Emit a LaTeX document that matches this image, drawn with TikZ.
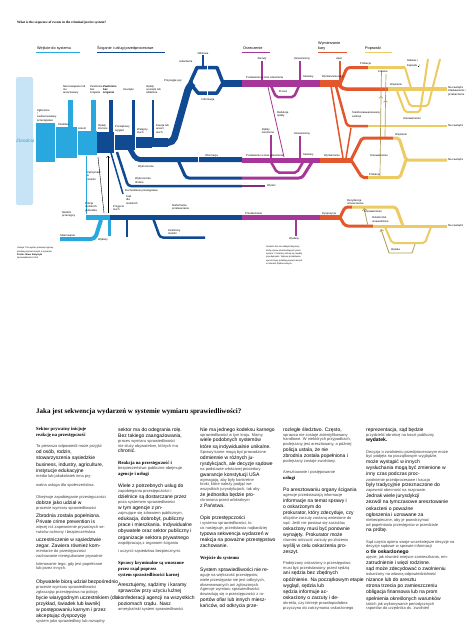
\documentclass[tikz,border=0pt]{standalone}
\usepackage{fontspec}
\setmainfont{Liberation Sans}
\newfontfamily\tnr{Liberation Serif}
\definecolor{crime}{RGB}{198,228,246}
\definecolor{entry}{RGB}{41,168,224}
\definecolor{prosec}{RGB}{16,74,146}
\definecolor{adjud}{RGB}{166,54,152}
\definecolor{sentenc}{RGB}{226,88,44}
\definecolor{correct}{RGB}{235,203,98}
\definecolor{parole}{RGB}{176,160,92}

\newcommand{\lnbig}[1]{{\fontsize{5}{5}\selectfont\rule[-1.4pt]{0pt}{6.2pt}#1}}
\newcommand{\lnsmall}[1]{{\fontsize{4}{4}\selectfont\color{black!75}\rule[-1pt]{0pt}{4.7pt}#1}}
\newcommand{\lnhead}[1]{{\tnr\bfseries\fontsize{4.7}{4}\selectfont\rule[-1.3pt]{0pt}{6pt}#1}}

\tikzset{
  lab/.style={font=\fontsize{2.7}{3.4}\selectfont, align=left, inner sep=0pt},
  hd/.style={font=\fontsize{3.8}{4.4}\selectfont, align=left, inner sep=0pt},
  note/.style={font=\fontsize{2.2}{3.3}\selectfont, align=left, inner sep=0pt},
  textcol/.style={anchor=north west, align=left, inner sep=0pt,
    font={\baselineskip=0pt\lineskip=0pt\lineskiplimit=0pt}},
}

\begin{document}
\begin{tikzpicture}[x=1pt,y=-1pt]
	\useasboundingbox (0,0) rectangle (474,632);
	\fill[white] (0,0) rectangle (474,632);

	% title and stage headers
	\node[anchor=west, inner sep=0pt, font=\tnr\bfseries\fontsize{3.4}{4}\selectfont] (title) at (17,23) {What is the sequence of events in the criminal justice system?};
	\node[hd, anchor=south west] (hentry) at (37,50) {Wejście do systemu};
	\node[hd, anchor=south west] (hpros) at (97,50) {Ściganie i usługi przedprocesowe};
	\node[hd, anchor=south west] (hadj) at (243,50) {Orzeczenie};
	\node[hd, anchor=south west] (hsent) at (318,50) {Wymierzanie\\kary};
	\node[hd, anchor=south west] (hcorr) at (365,50) {Poprawki};
	\draw[entry, line width=1.5] (36,52.5) -- (80,52.5);
	\draw[prosec, line width=1.5] (97,52.5) -- (165,52.5);
	\draw[adjud, line width=1.5] (242,52.5) -- (270,52.5);
	\draw[sentenc, line width=1.5] (318,52.5) -- (347,52.5);
	\draw[correct, line width=1.5] (365,52.5) -- (392,52.5);

	% entry into the system
	\fill[crime, rounded corners=2] (16,77) rectangle (33,205);
	\node[anchor=west, inner sep=0pt, text=entry, font=\fontsize{4.6}{5}\selectfont] (crime) at (16,141) {Zbrodnia};
	\fill[entry] (36,123) rectangle (55,162);
	\fill[entry] (55,127) rectangle (77,158);
	\fill[entry] (77,131) rectangle (97,155);
	\fill[entry] (68,100) rectangle (73,127);
	\fill[entry] (91,100) rectangle (96,131);
	\draw[white, line width=0.5] (55,126) -- (55,159) (77,130) -- (77,156);
	\node[lab, anchor=south west] (reported) at (37,122) {Zgłoszone\\i\\zaobserwowany\\przestępstwo};
	\node[lab, anchor=west] (invest) at (58,124) {Śledztwo};
	\node[lab, anchor=west] (arrest) at (78,128.5) {Areszt};
	\node[lab, anchor=north west] (unsolved) at (63,85) {Nierozwiązane lub\\nie\\aresztowany};
	\node[lab, anchor=north west] (relnopros) at (90,85) {Zwolnione\\bez\\ścigania};

	% prosecution and pretrial services
	\fill[prosec] (97,132) rectangle (114,153);
	\fill[prosec] (114,135) rectangle (135,150);
	\fill[prosec] (135,137) rectangle (152,148);
	\fill[prosec] (152,138) rectangle (168,147);
	\fill[prosec] (109,100) rectangle (113,132);
	\fill[prosec] (131.5,100) rectangle (134.5,135);
	\fill[prosec] (151.5,100) rectangle (154,138);
	\draw[white, line width=0.5] (114,134) -- (114,154) (135,136) -- (135,151);
	\node[lab, anchor=north west, font=\bfseries\fontsize{2.7}{3.4}\selectfont] (relbook) at (103,85) {Zwolnione\\bez\\ścigania};
	\node[lab, anchor=north west] (dropped1) at (123,88) {Usunięte};
	\node[lab, anchor=north west] (dropped2) at (146,85) {Opłaty\\usunięte lub\\oddalone};
	\node[lab, anchor=west] (charges) at (98,127) {Opłaty\\złożone};
	\node[lab, anchor=west] (initial) at (115,129) {Początkowy\\wygląd};
	\node[lab, anchor=west] (prelim) at (137,131) {Wstępny\\słuch};
	\node[lab, anchor=west] (bail) at (156,129) {Kaucja lub\\areszt\\słuch};
	% grand jury
	\draw[prosec, line width=7, rounded corners=5] (160,142.5) -- (173,142.5) -- (189,86) -- (193,83);
	\draw[prosec, line width=3.5, line join=round] (190,83) -- (197,67.5) -- (217,67.5) -- (223,83);
	\draw[prosec, line width=3.5, line join=round] (190,83) -- (198,93) -- (217,93) -- (223,83);
	\draw[white, line width=0.6] (207,64) -- (207,71) (207,89) -- (207,97);
	\draw[prosec, line width=1.5] (203,55) -- (203,67);
	\draw[prosec, line width=7] (222,83) -- (242,83);
	\node[lab, anchor=west] (grandjury) at (164,80.5) {Przysięgłe jury};
	\node[lab, anchor=south] (refusal) at (203,55) {Odmowa};
	\node[lab, anchor=west] (indict) at (179,62) {oskarżenia};
	\node[lab] (info1) at (208,100) {Informacja};
	% misdemeanors and petty offenses
	\draw[prosec, line width=5, rounded corners=4] (130,149) -- (136,159.5) -- (242,159.5);
	\draw[white, line width=0.6] (198,156) -- (198,163);
	\draw[prosec, line width=3, rounded corners=3] (178,160) -- (186,178) -- (242,178);
	\draw[prosec, line width=2.5, rounded corners=3] (117,152) -- (128,186) -- (242,186);
	\draw[prosec, line width=1.5] (111,153) -- (123,194);
	\node[lab, anchor=south west] (info2) at (205,157) {Informacja};
	\node[lab, anchor=west] (misd) at (138,167) {Wykroczenia};
	\node[lab, anchor=west] (petty) at (135,180.5) {Wykroczenia\\drobne};
	\node[lab, anchor=west] (pettyinv) at (125,191) {Dochodzenie przestępstwa};

	% juveniles
	\draw[entry, line width=1] (86,156) -- (86,214);
	\draw[entry, line width=5] (86,217.5) -- (110,217.5);
	\draw[entry, line width=4, rounded corners=4] (60,239) -- (95,239) -- (101,220);
	\draw[entry, line width=2.5] (109.5,220) -- (109.5,236);
	\draw[black, line width=0.4] (98,157) -- (104,213);
	\draw[black, line width=0.4, ->] (108,213) -- (108,156);
	\draw[prosec, line width=5] (110,217.5) -- (242,217.5);
	\draw[prosec, line width=2] (127,220) -- (127,237);
	\draw[prosec, line width=2.5, rounded corners=3] (153,218) -- (160,237.5) -- (205,237.5);
	\node[lab, anchor=west] (warned) at (87,176) {Zatrzymani\\\&\\nieletni};
	\node[lab, anchor=west] (policejuv) at (85,207) {Policja\\nieletnich\\jednostka};
	\node[lab, anchor=west] (juvoff) at (62,214.5) {Nieletni\\przestępcy};
	\node[lab, anchor=south west] (referral) at (60,236.5) {Skierowania};
	\node[lab, anchor=north east] (released1) at (108,238) {Wydany};
	\node[lab, anchor=west] (intake) at (113,208) {Przyjęcie\\słuch};
	\node[lab, anchor=west] (juvcourt) at (126,200) {Sąd\\dla\\nieletnich};
	\node[lab, anchor=west] (informal) at (172,207.5) {Nieformalne\\przetwarzanie};
	\node[lab, anchor=west] (released2) at (168,232) {Zwolniony\\nieletni};

	% adjudication
	\draw[adjud, line width=7] (242,83) -- (320,83);
	\draw[adjud, line width=2] (262,61) -- (262,80);
	\draw[adjud, line width=2] (300,61) -- (300,80);
	\draw[adjud, line width=2.5, rounded corners=2] (271,86) -- (276,97) -- (294,97) -- (299,86);
	\draw[adjud, line width=0.8] (268,87) -- (284,157);
	\draw[adjud, line width=5] (242,160) -- (320,160);
	\draw[adjud, line width=2] (271,135) -- (271,157.5);
	\draw[adjud, line width=2] (300,136) -- (300,157.5);
	\draw[adjud, line width=2.5, rounded corners=2] (271,162) -- (277,172.5) -- (297,172.5) -- (303,162);
	\draw[adjud, line width=3, rounded corners=3] (242,178) -- (302,178) -- (312,162);
	\draw[adjud!80!black, line width=2.5] (242,186) -- (265,186);
	\draw[adjud, line width=5] (242,217.5) -- (320,217.5);
	\draw[adjud, line width=2.5] (296,219) -- (296,236);
	\node[lab, anchor=south west] (arraign1) at (246,78.5) {Postawienie w stan oskarżenia};
	\node[lab, anchor=south] (dism1) at (262,60) {Zarzuty};
	\node[lab, anchor=south] (acq1) at (302,60) {Uniewinniony};
	\node[lab] (trial1) at (283,92) {Proces};
	\node[lab, anchor=west] (reduct) at (277,114) {Redukcja\\opłaty};
	\node[lab, anchor=south west] (conv1) at (303,78.5) {Skazany};
	\node[lab, anchor=south west] (arraign2) at (246,156.5) {Postawienie w stan oskarżenia};
	\node[lab, anchor=south] (dism2) at (268,134) {Opłaty\\zwolnione};
	\node[lab, anchor=south] (acq2) at (302,135) {Uniewinniony};
	\node[lab, anchor=south west] (conv2) at (303,156.5) {Skazany};
	\node[lab, anchor=west] (petsent) at (267,186) {Wyroki};
	\node[lab, anchor=south west] (adjhear) at (245,214.5) {Przesłuchanie};
	\node[lab, anchor=north] (released3) at (294,237.5) {Wydany};

	% sentencing and corrections, felonies
	\draw[sentenc, line width=7] (320,83) -- (342,83);
	\draw[sentenc, line width=2] (340,61) -- (340,80);
	\draw[sentenc, line width=3, rounded corners=3] (341,82) -- (347,67.5) -- (368,67.5);
	\draw[correct, line width=3] (368,67.5) -- (405,67.5);
	\draw[sentenc, line width=3.5, rounded corners=3] (338,84) -- (343,89) -- (388,89);
	\draw[correct, line width=3.5] (388,89) -- (447,89);
	\draw[sentenc, line width=2.5, rounded corners=3] (336,86) -- (347,126) -- (368,126);
	\draw[correct, line width=2.5] (368,126) -- (447,126);
	\draw[sentenc, line width=1.5] (331,86) -- (343,158);
	\draw[sentenc, line width=1.5] (346,158) -- (351,128);
	\draw[correct, line width=2, rounded corners=2] (405,67.5) -- (411,88);
	\draw[correct, line width=2, rounded corners=2] (397,91) -- (405,112) -- (420,112) -- (428,59);
	\draw[correct, line width=2, rounded corners=2] (404,91) -- (410,106) -- (428,106) -- (440,59);
	\draw[parole, line width=0.7, ->] (380,176) -- (380.5,136);
	\draw[parole, line width=0.7, ->] (380.5,136) -- (381,96);
	\draw[parole, line width=0.7] (381,96) -- (381.5,71);
	\draw[parole, line width=0.7, ->] (385,137) -- (385.5,100);
	\draw[parole, line width=0.7] (385.5,100) -- (386,74);
	\node[lab, anchor=south west] (sent1) at (322,78.5) {Wymierzanie kary};
	\node[lab, anchor=south] (appeal) at (339,60) {Apel};
	\node[lab, anchor=south west] (prob1) at (360,65) {Probacja};
	\node[lab, anchor=north west] (revoc1) at (378,70.5) {Cofanie};
	\node[lab, anchor=south west] (prison) at (390,86) {Więzienie};
	\node[lab, anchor=west] (habeas) at (407,61) {Habeas \textbullet};
	\node[lab, anchor=west] (corpus) at (407,66) {Kapsuła \rule{1pt}{1pt}\,\textbullet};
	\node[lab, anchor=west] (revoc2) at (403,119) {Unieważnienie};
	\node[lab, anchor=north west] (out1) at (448,86.5) {Na zewnątrz\\Ułaskawienie i\\przebaczenie};
	\node[lab, anchor=west] (intermed) at (352,114.5) {Średniozaawansowany\\sankcje};
	\node[lab, anchor=west] (out2) at (448,126) {Na zewnątrz};

	% sentencing and corrections, misdemeanors
	\draw[sentenc, line width=5] (320,160) -- (352,160);
	\draw[sentenc, line width=3, rounded corners=2] (351,160) -- (362,138) -- (393,138);
	\draw[correct, line width=3, rounded corners=2] (393,138) -- (399,138) -- (406,160) -- (447,160);
	\draw[sentenc, line width=3, rounded corners=2] (351,160) -- (362,177.5) -- (368,177.5);
	\draw[correct, line width=3, rounded corners=2] (368,177.5) -- (400,177.5) -- (406,160);
	\node[lab, anchor=south west] (sent2) at (324,157) {Wymierzanie};
	\node[lab, anchor=south west] (jail) at (395,136) {Więzienie};
	\node[lab, anchor=west] (revoc3) at (370,156) {Unieważnienie};
	\node[lab, anchor=south west] (prob2) at (369,176) {Probacja};
	\node[lab, anchor=west] (out3) at (448,160) {Na zewnątrz};

	% sentencing and corrections, juveniles
	\draw[sentenc, line width=5] (320,217.5) -- (342,217.5);
	\draw[sentenc, line width=3, rounded corners=3] (340,217.5) -- (345,207) -- (352,207);
	\draw[correct, line width=3, rounded corners=3] (352,207) -- (396,207) -- (403,226);
	\draw[sentenc, line width=3, rounded corners=3] (340,217.5) -- (345,226) -- (373,226);
	\draw[correct, line width=3] (373,226) -- (447,226);
	\draw[correct, line width=2, rounded corners=2] (385,227) -- (392,243) -- (425,243) -- (431,227);
	\draw[parole, line width=0.8, ->] (389,253) -- (381,229);
	\draw[parole, line width=0.8] (389,253) -- (412,253) -- (415,244);
	\draw[parole, line width=0.8, ->] (368,226) -- (364,208);
	\node[lab, anchor=south west] (dispos) at (322,215) {Dyspozycja};
	\node[lab, anchor=south west] (resid) at (347,205) {Rezydencja\\umieszczenie};
	\node[lab, anchor=west] (revoc4) at (364,211.5) {Unieważnienie};
	\node[lab, anchor=west] (revoc5) at (372,219.5) {Ostatecznie\\unieważnione};
	\node[lab, anchor=south west] (aftercare) at (391,251.5) {Opieka};
	\node[lab, anchor=west] (out4) at (448,226) {Na zewnątrz};

	% notes
	\node[note, anchor=north west] (note1) at (17,247) {Uwaga: Ten wykres pokazuje typowy\\przebieg spraw karnych w systemie\\\textbf{Źródło: Biuro Statystyki}\\Sprawiedliwości USA.};
	\node[note, anchor=north west] (note2) at (266,246) {Grubość linii nie oddaje faktycznej\\liczby spraw przechodzących przez\\system. Procedury różnią się między\\jurysdykcjami. Wykres przedstawia\\uproszczony przebieg spraw karnych\\w Stanach Zjednoczonych.};

	% text below the chart
	\node[anchor=west, inner sep=0pt, font=\tnr\bfseries\fontsize{7}{8}\selectfont] (heading) at (36,412) {Jaka jest sekwencja wydarzeń w systemie wymiaru sprawiedliwości?};
	\node[textcol] (col1) at (36,426) {%
\lnhead{Sektor prywatny inicjuje}\\
\lnhead{reakcję na przestępczość}\\[6pt]
\lnsmall{Ta pierwsza odpowiedź może przyjść}\\
\lnbig{od osób, rodzin,}\\
\lnbig{stowarzyszenia sąsiedzkie}\\
\lnbig{business, industry, agriculture,}\\
\lnbig{instytucje edukacyjne}\\
\lnsmall{media lub jakakolwiek inna pry-}\\[4pt]
\lnsmall{watna usługa dla społeczeństwa.}\\[8pt]
\lnsmall{Obejmuje zapobieganie przestępczości}\\
\lnbig{dobrze jako udział w}\\
\lnsmall{procesie wymiaru sprawiedliwości}\\[2pt]
\lnbig{Zbrodnia została popełniona.}\\
\lnbig{Private crime prevention is}\\
\lnsmall{więcej niż zapewnienie prywatnych se-}\\
\lnsmall{rwisów ochrony i bezpieczeństwa}\\[2pt]
\lnbig{uczestniczenie w sąsiedztwie}\\
\lnbig{zegar. Zawiera również kom-}\\
\lnsmall{mentarze do przestępczości}\\
\lnsmall{zachowanie nieregulowane prywatnie}\\[3pt]
\lnsmall{tolerowanie tego, gdy jest popełniane}\\
\lnsmall{lub przez innych.}\\[8pt]
\lnbig{Obywatele biorą udział bezpośrednio}\\
\lnsmall{procesie wymiaru sprawiedliwości}\\
\lnsmall{zgłaszając przestępstwa na policję,}\\
\lnbig{bycie wiarygodnym uczestnikiem (dla}\\
\lnbig{przykład, świadek lub ławnik)}\\
\lnbig{w postępowaniu karnym i przez}\\
\lnbig{akceptując dyspozycję}\\
\lnsmall{system jako sprawiedliwy lub rozsądny}};
	\node[textcol] (col2) at (118,426) {%
\lnbig{sektor ma do odegrania rolę.}\\
\lnbig{Bez takiego zaangażowania,}\\
\lnsmall{proces wymiaru sprawiedliwości}\\
\lnsmall{nie służy obywatelom, których ma}\\
\lnbig{chronić.}\\[6pt]
\lnhead{Reakcja na przestępczość i}\\
\lnsmall{bezpieczeństwo publiczne obejmuje}\\
\lnhead{agencje i usługi}\\[6pt]
\lnbig{Wiele z potrzebnych usług do}\\
\lnsmall{zapobiegania przestępczości i}\\
\lnbig{dzielnice są dostarczane przez}\\
\lnsmall{poza systemem sprawiedliwości}\\
\lnbig{w tym agencje z pn-}\\
\lnsmall{zajmujące się zdrowiem publicznym,}\\
\lnbig{edukacja, dobrobyt, publiczny}\\
\lnbig{prace i mieszkania. Indywidualne}\\
\lnbig{obywatele oraz sektor publiczny i}\\
\lnbig{organizacje sektora prywatnego}\\
\lnsmall{współpracują z organami ścigania}\\[4pt]
\lnsmall{i uczynić sąsiedztwa bezpiecznymi.}\\[6pt]
\lnhead{Sprawy kryminalne są wnoszone}\\
\lnhead{przez rząd poprzez}\\
\lnhead{system sprawiedliwości karnej}\\[4pt]
\lnbig{Aresztujemy, sądzimy i karamy}\\
\lnbig{sprawców przy użyciu luźnej}\\
\lnbig{konfederacji agencji na wszystkich}\\
\lnbig{poziomach rządu. Nasz}\\
\lnsmall{amerykański system sprawiedliwości}};
	\node[textcol] (col3) at (200,426) {%
\lnbig{Nie ma jednego kodeksu karnego}\\
\lnsmall{sprawiedliwości w tym kraju. Mamy}\\
\lnbig{wiele podobnych systemów}\\
\lnbig{które są indywidualnie unikalne.}\\
\lnsmall{Sprawy karne mogą być prowadzone}\\
\lnbig{odmiennie w różnych ju-}\\
\lnbig{rysdykcjach, ale decyzje sądowe}\\
\lnsmall{na podstawie właściwej procedury}\\
\lnbig{gwarancje konstytucji USA}\\
\lnsmall{wymagają, aby były konkretne}\\
\lnsmall{kroki, które należy podjąć we}\\
\lnsmall{wszystkich jurysdykcjach, tak aby}\\
\lnbig{że jednostka będzie pro-}\\
\lnsmall{chroniona przed arbitralnym}\\
\lnbig{z Państwa.}\\[6pt]
\lnbig{Opis przestępczości}\\
\lnsmall{i systemu sprawiedliwości, to}\\
\lnsmall{co następuje, przedstawia najbardziej}\\
\lnbig{typowa sekwencja wydarzeń w}\\
\lnbig{reakcja na poważne przestępstwo}\\
\lnbig{zachowanie.}\\[6pt]
\lnhead{Wejście do systemu}\\[6pt]
\lnbig{System sprawiedliwości nie re-}\\
\lnsmall{aguje na większość przestępstw,}\\
\lnsmall{wiele przestępstw nie jest odkrytych,}\\
\lnsmall{obserwowanych ani zgłoszonych.}\\
\lnsmall{Agencje wymiaru sprawiedliwości}\\
\lnsmall{dowiadują się o przestępczości z ra-}\\
\lnbig{portów ofiar lub innych miesz-}\\
\lnbig{kańców, od odkrycia prze-}};
	\node[textcol] (col4) at (283,426) {%
\lnbig{rozległe śledztwo. Często,}\\
\lnsmall{sprawca nie zostaje zidentyfikowany}\\
\lnsmall{handlowe. W niektórych przypadkach,}\\
\lnsmall{podejrzany jest aresztowany, a później}\\
\lnbig{policja ustala, że nie}\\
\lnbig{zbrodnia została popełniona i}\\
\lnsmall{podejrzany zostaje zwolniony.}\\[6pt]
\lnsmall{Aresztowanie i postępowanie}\\
\lnhead{usługi}\\[6pt]
\lnbig{Po aresztowaniu organy ścigania}\\
\lnsmall{agencje przedstawiają informacje}\\
\lnbig{informacje na temat sprawy i}\\
\lnbig{o oskarżonym do}\\
\lnbig{prokurator, który zdecyduje, czy}\\
\lnsmall{oficjalne zarzuty zostaną wniesione do}\\
\lnsmall{sąd. Jeśli nie postawi się zarzutów,}\\
\lnbig{oskarżony musi być ponownie}\\
\lnbig{wynajęty. Prokurator może}\\
\lnsmall{również odrzucić zarzuty po złożeniu}\\
\lnbig{wyślij w celu oskarżenia pro-}\\
\lnbig{zeszyt.}\\[6pt]
\lnsmall{Podejrzany oskarżony o przestępstwo}\\
\lnsmall{musi być przedstawiony przed sędzią}\\
\lnbig{ani sędzia bez zbędnych}\\
\lnbig{opóźnienie. Na początkowym etapie}\\
\lnbig{wygląd, sędzia lub}\\
\lnbig{sędzia informuje ac-}\\
\lnbig{oskarżony o zarzuty i de-}\\
\lnsmall{określa, czy istnieje prawdopodobna}\\
\lnsmall{przyczyna do zatrzymania oskarżonego}};
	\node[textcol] (col5) at (366,426) {%
\lnbig{reprezentacja, sąd będzie}\\
\lnsmall{przydzielić obrońcę na koszt publiczny}\\
\lnbig{\bfseries wydatek.}\\[6pt]
\lnsmall{Decyzja o zwolnieniu przedprocesowym może}\\
\lnsmall{być podjęta na początkowym wyglądzie,}\\
\lnbig{może wystąpić w innych}\\
\lnbig{wysłuchania mogą być zmienione w}\\
\lnbig{inny czas podczas proc-}\\
\lnsmall{zwolnienie przedprocesowe i kaucja}\\
\lnbig{były tradycyjnie przeznaczone do}\\
\lnsmall{zapewnić obecność na rozprawie.}\\
\lnbig{Jednak wiele jurysdykcji}\\
\lnbig{zezwól na tymczasowe aresztowanie}\\
\lnbig{oskarżeni o poważne}\\
\lnbig{ogłoszenia i uznawane za}\\
\lnsmall{niebezpieczne, aby je powstrzymać}\\
\lnsmall{od popełniania przestępstw w przedziale}\\
\lnbig{na próbę.}\\[6pt]
\lnsmall{Sąd często opiera swoje wcześniejsze decyzje na}\\
\lnsmall{decyzje sądowe w sprawie informacji}\\
\lnbig{\bfseries o tle oskarżonego}\\
\lnsmall{ujęcie, jak również miejsce zamieszkania, em-}\\
\lnbig{zatrudnienie i więzi rodzinne.}\\
\lnbig{sąd może zdecydować o zwolnieniu}\\
\lnsmall{oskarżony na własną odpowiedzialność}\\
\lnbig{nizance lub do aresztu}\\
\lnbig{strona trzecia po zamieszczeniu}\\
\lnbig{obligacja finansowa lub na prom}\\
\lnbig{spełnienia określonych warunków}\\
\lnsmall{takich jak wykonywanie periodycznych}\\
\lnsmall{raportów do urzędnika ds. zwolnień}};
\end{tikzpicture}
\end{document}
